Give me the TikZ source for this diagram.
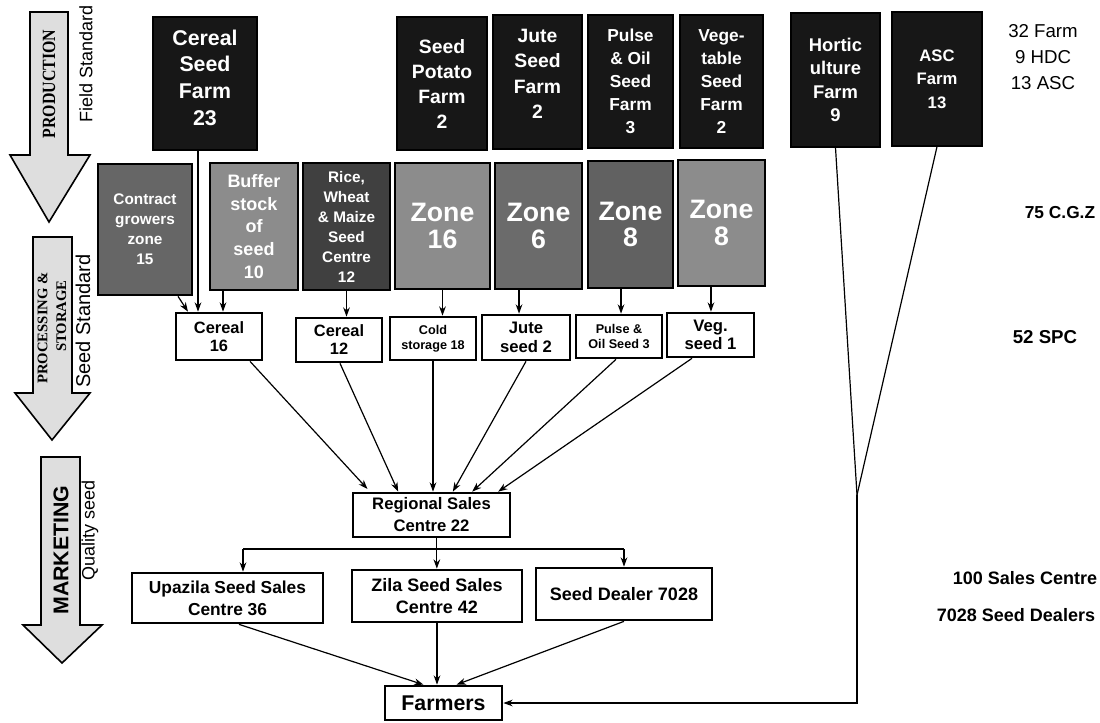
\documentclass[tikz,border=0pt]{standalone}
\usepackage{fontspec}
\setmainfont{Liberation Sans}
\newfontfamily\tnr{Liberation Serif}
\newfontfamily\tnrn[FakeStretch=0.85]{Liberation Serif}
\usetikzlibrary{arrows.meta}
\newcommand\fsz[2]{\fontsize{#1}{#2}\selectfont}
% \bx{options}{name}{x1}{y1}{x2}{y2}{text}  (pixel corners)
\newcommand\bx[7]{\node[#1, minimum width={(#5-#3)*0.75pt}, minimum height={(#6-#4)*0.75pt}] (#2) at ({(#3+#5)/2},{(#4+#6)/2}) {#7};}
\definecolor{farmblk}{gray}{0.09}
\definecolor{zgA}{gray}{0.40}
\definecolor{zgB}{gray}{0.55}
\definecolor{zgC}{gray}{0.25}
\definecolor{zgD}{gray}{0.55}
\definecolor{zgE}{gray}{0.42}
\definecolor{zgF}{gray}{0.38}
\definecolor{zgG}{gray}{0.55}
\begin{document}
\begin{tikzpicture}[x=0.75pt,y=-0.75pt,
  farm/.style={draw=black, fill=farmblk, text=white, inner sep=0pt, line width=1pt, align=center},
  zonebox/.style={draw=black, text=white, inner sep=0pt, line width=2pt, align=center},
  store/.style={draw=black, fill=white, inner sep=0pt, line width=2pt, align=center},
  conn/.style={line width=0.9pt},
  arr/.style={conn, -{Stealth[length=7pt,width=5pt]}},
  bigarrow/.style={draw=black, line width=1.2pt, fill=black!13, line join=miter},
  sidelab/.style={rotate=90, inner sep=0pt}]
\useasboundingbox (0,0) rectangle (1100,722);

% ---- big stage arrows ----
\draw[bigarrow] (30,12) -- (68,12) -- (68,155) -- (90,155) -- (49,222) -- (10,155) -- (30,155) -- cycle;
\node[sidelab, font=\tnrn\bfseries\fsz{14}{16}] (prodlab) at (49,84) {PRODUCTION};
\node[sidelab, font=\fsz{13.5}{15}] (fieldstd) at (86,64) {Field Standard};

\draw[bigarrow] (33,237) -- (72,237) -- (72,393) -- (90,393) -- (52,440) -- (15,393) -- (33,393) -- cycle;
\node[sidelab, align=right, font=\tnr\bfseries\fsz{11}{14}] (proclab) at (52,328) {PROCESSING \&\\STORAGE\hspace*{6pt}};
\node[sidelab, font=\fsz{15}{17}] (seedstd) at (83,321) {Seed Standard};

\draw[bigarrow] (41,457) -- (80,457) -- (80,625) -- (102,625) -- (62,663) -- (23,625) -- (41,625) -- cycle;
\node[sidelab, font=\bfseries\fsz{16}{18}] (marklab) at (61,550) {MARKETING};
\node[sidelab, font=\fsz{13.5}{15}] (qualseed) at (90,530) {Quality seed};

% ---- production farms ----
\bx{farm, font=\bfseries\fsz{16}{20}, text depth=9pt}{csf}{153}{17}{257}{150}{Cereal\\Seed\\Farm\\23}
\bx{farm, font=\bfseries\fsz{14.5}{18.75}}{spf}{397}{17}{487}{150}{Seed\\Potato\\Farm\\2}
\bx{farm, font=\bfseries\fsz{14.5}{19}, text depth=12pt}{jsf}{493}{15}{582}{149}{Jute\\Seed\\Farm\\2}
\bx{farm, font=\bfseries\fsz{13}{17.25}}{posf}{588}{15}{673}{148}{Pulse\\\& Oil\\Seed\\Farm\\3}
\bx{farm, font=\bfseries\fsz{13}{17.25}}{vsf}{680}{15}{763}{148}{Vege-\\table\\Seed\\Farm\\2}
\bx{farm, font=\bfseries\fsz{13.8}{17.5}}{hf}{791}{13}{880}{147}{Hortic\\ulture\\Farm\\9}
\bx{farm, font=\bfseries\fsz{12.5}{17.5}}{ascf}{892}{12}{982}{146}{ASC\\Farm\\13}

% ---- zones ----
\bx{zonebox, fill=zgA, font=\bfseries\fsz{11.5}{15}}{cgz}{98}{164}{192}{295}{Contract\\growers\\zone\\15}
\bx{zonebox, fill=zgB, font=\bfseries\fsz{13.5}{17}}{bsz}{210}{163}{298}{290}{Buffer\\stock\\of\\seed\\10}
\bx{zonebox, fill=zgC, font=\bfseries\fsz{11.5}{15}}{rwm}{303}{163}{390}{290}{Rice,\\Wheat\\\& Maize\\Seed\\Centre\\12}
\bx{zonebox, fill=zgD, font=\bfseries\fsz{20}{20}}{zA}{395}{163}{490}{289}{Zone\\16}
\bx{zonebox, fill=zgE, font=\bfseries\fsz{20}{20}}{zB}{495}{163}{582}{289}{Zone\\6}
\bx{zonebox, fill=zgF, font=\bfseries\fsz{20}{20}}{zC}{588}{161}{673}{288}{Zone\\8}
\bx{zonebox, fill=zgG, font=\bfseries\fsz{20}{20}}{zD}{678}{160}{765}{286}{Zone\\8}

% ---- processing / storage ----
\bx{store, font=\bfseries\fsz{12.3}{13.5}}{cA}{176}{313}{262}{360}{Cereal\\16}
\bx{store, font=\bfseries\fsz{12.3}{13.5}}{cB}{296}{318}{382}{362}{Cereal\\12}
\bx{store, font=\bfseries\fsz{9.5}{11.5}}{cold}{390}{317}{476}{360}{Cold\\storage 18}
\bx{store, font=\bfseries\fsz{12.5}{14}}{jute}{482}{315}{570}{360}{Jute\\seed 2}
\bx{store, font=\bfseries\fsz{9.5}{11.5}}{pulse}{576}{315}{662}{358}{Pulse \&\\Oil Seed 3}
\bx{store, font=\bfseries\fsz{12.5}{14}}{veg}{667}{313}{754}{357}{Veg.\\seed 1}

% ---- marketing ----
\bx{store, font=\bfseries\fsz{12.5}{16.5}}{reg}{353}{493}{510}{537}{Regional Sales\\Centre 22}
\bx{store, font=\bfseries\fsz{13}{16.5}}{upz}{132}{573}{323}{623}{Upazila Seed Sales\\Centre 36}
\bx{store, font=\bfseries\fsz{13.5}{17}}{zila}{352}{570}{522}{622}{Zila Seed Sales\\Centre 42}
\bx{store, font=\bfseries\fsz{13.5}{17}}{dealer}{536}{568}{712}{620}{Seed Dealer 7028}
\bx{store, font=\bfseries\fsz{16}{18}}{farmers}{385}{686}{502}{720}{Farmers}

% ---- right-hand totals ----
\node[align=center, font=\fsz{14}{19.5}] (totfarm) at (1043,57) {32 Farm\\9 HDC\\13 ASC};
\node[font=\bfseries\fsz{13}{15}] (totcgz) at (1060,213) {75 C.G.Z};
\node[font=\bfseries\fsz{14}{16}] (totspc) at (1045,337) {52 SPC};
\node[font=\bfseries\fsz{13.5}{16}] (totsales) at (1025,578) {100 Sales Centre};
\node[font=\bfseries\fsz{13.5}{16}] (totdeal) at (1016,615) {7028 Seed Dealers};

% ---- connectors: production -> storage ----
\draw[arr] ([xshift=24.75pt]cgz.south) -- ([xshift=-23.25pt]cA.north);
\draw[arr] ([xshift=-5.25pt]csf.south) -- ([xshift=-5.25pt]csf.south |- cA.north);
\draw[arr] ([xshift=-23.25pt]bsz.south) -- ([xshift=-23.25pt]bsz.south |- cA.north);
\draw[arr] (rwm.south) -- (rwm.south |- cB.north);
\draw[arr] (zA.south) -- (zA.south |- cold.north);
\draw[arr] ([xshift=-14.6pt]zB.south) -- ([xshift=-14.6pt]zB.south |- jute.north);
\draw[arr] ([xshift=-7.1pt]zC.south) -- ([xshift=-7.1pt]zC.south |- pulse.north);
\draw[arr] ([xshift=-7.9pt]zD.south) -- ([xshift=-7.9pt]zD.south |- veg.north);

% ---- storage -> regional ----
\draw[arr] ([xshift=23.25pt]cA.south) -- ([xshift=-48pt,yshift=2pt]reg.north);
\draw[arr] ([xshift=0.75pt]cB.south) -- ([xshift=-25pt]reg.north);
\draw[arr] (cold.south) -- (cold.south |- reg.north);
\draw[arr] (jute.south) -- ([xshift=16pt]reg.north);
\draw[arr] ([xshift=-2.25pt]pulse.south) -- ([xshift=30.5pt]reg.north);
\draw[arr] ([xshift=-13.9pt]veg.south) -- ([xshift=50pt]reg.north);

% ---- regional -> outlets ----
\coordinate (brL) at (243,549);
\coordinate (brR) at (624,549);
\draw[conn] (brL) -- (brR);
\draw[arr] ([xshift=4pt]reg.south) -- ([xshift=4pt]reg.south |- zila.north);
\draw[arr] (brL) -- (brL |- upz.north);
\draw[arr] (brR) -- (brR |- dealer.north);

% ---- outlets -> farmers ----
\draw[arr] ([xshift=8.6pt]upz.south) -- ([xshift=-15pt]farmers.north);
\draw[arr] (zila.south) -- (zila.south |- farmers.north);
\draw[arr] (dealer.south) -- ([xshift=9.75pt]farmers.north);

% ---- horticulture / ASC -> farmers ----
\coordinate (jn) at (857,495);
\draw[conn] (hf.south) -- (jn);
\draw[conn] (ascf.south) -- (jn);
\draw[arr] (jn) -- (jn |- farmers.east) -- (farmers.east);
\end{tikzpicture}
\end{document}
